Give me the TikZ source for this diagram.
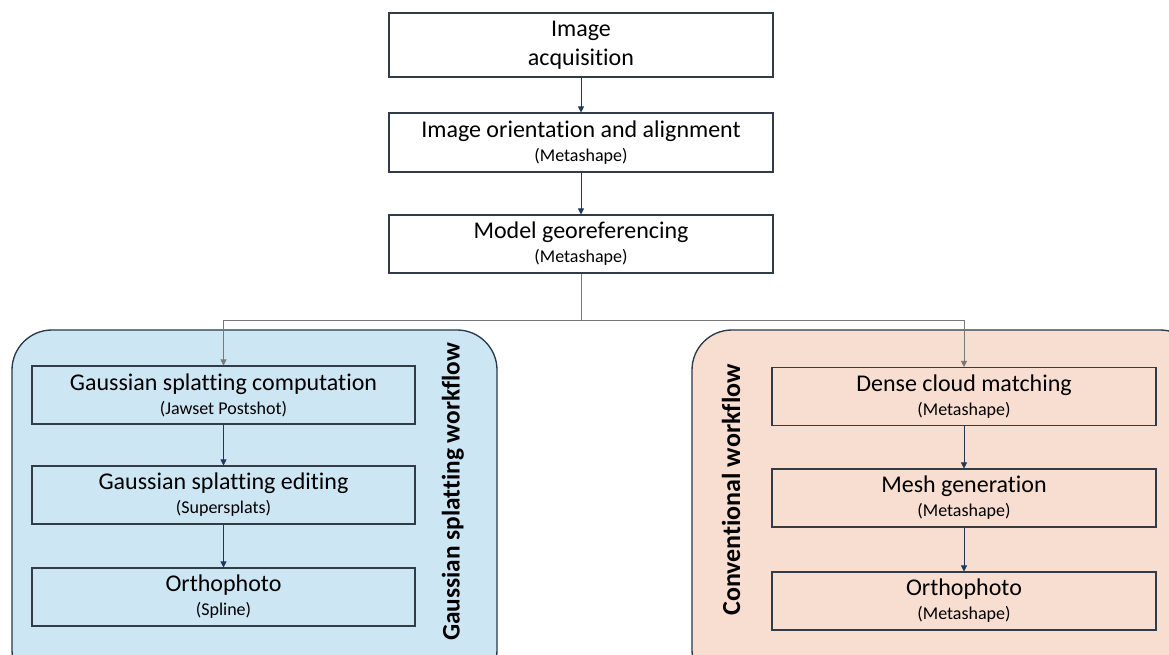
\documentclass[tikz,border=0pt]{standalone}
\usepackage{fontspec}
\setmainfont{Carlito}[Ligatures={NoCommon}]
\usetikzlibrary{arrows.meta}
\definecolor{bluefill}{RGB}{205,230,244}
\definecolor{peachfill}{RGB}{248,222,209}
\definecolor{panelborder}{RGB}{38,58,76}
\definecolor{boxborder}{RGB}{50,60,70}
\definecolor{navy}{RGB}{31,56,90}
\definecolor{branchgray}{RGB}{120,120,120}
\tikzset{
  stepbox/.style={draw=boxborder, line width=0.8pt, minimum width=384*0.75pt, minimum height=58*0.75pt, align=center, inner sep=0pt, font=\fontsize{18}{20}\selectfont},
  flow/.style={draw=navy, line width=0.6pt, -{Triangle[length=4.5pt,width=4.5pt]}},
  branch/.style={draw=branchgray, line width=0.6pt},
  panel/.style={draw=panelborder, line width=1pt, rounded corners=30pt},
  paneltitle/.style={rotate=90, font=\fontsize{18.5}{20}\selectfont\bfseries}
}
\newcommand{\subl}[1]{\\[-2pt]{\fontsize{13.5}{15}\selectfont #1}}
\begin{document}
\begin{tikzpicture}[x=0.75pt,y=-0.75pt]
\useasboundingbox (0,0) rectangle (1169,655);
\clip (0,0) rectangle (1169,655);
\fill[white] (0,0) rectangle (1169,655);
% panels
\draw[panel, fill=bluefill] (12,330) rectangle (497,690);
\draw[panel, fill=peachfill] (692,330) rectangle (1200,690);
% top boxes
\node[stepbox, fill=white, minimum height=64*0.75pt] (acq) at (581,45) {Image\\[2pt]acquisition};
\node[stepbox, fill=white, minimum height=59*0.75pt] (ori) at (581,142.5) {Image orientation and alignment\subl{(Metashape)}};
\node[stepbox, fill=white] (geo) at (581,244) {Model georeferencing\subl{(Metashape)}};
% left boxes
\node[stepbox, fill=bluefill, minimum width=383*0.75pt] (gs1) at (223.5,395) {Gaussian splatting computation\subl{(Jawset Postshot)}};
\node[stepbox, fill=bluefill, minimum width=383*0.75pt] (gs2) at (223.5,495) {Gaussian splatting editing\subl{(Supersplats)}};
\node[stepbox, fill=bluefill, minimum width=383*0.75pt] (gs3) at (223.5,597) {Orthophoto\subl{(Spline)}};
% right boxes
\node[stepbox, fill=peachfill] (cw1) at (964,396.5) {Dense cloud matching\subl{(Metashape)}};
\node[stepbox, fill=peachfill] (cw2) at (964,498) {Mesh generation\subl{(Metashape)}};
\node[stepbox, fill=peachfill] (cw3) at (964,601) {Orthophoto\subl{(Metashape)}};
% panel titles
\node[paneltitle, font=\fontsize{19}{20}\selectfont\bfseries] (gstitle) at (453,492) {Gaussian splatting workflow};
\node[paneltitle, font=\fontsize{19.5}{20}\selectfont\bfseries] (cwtitle) at (731,490) {Conventional workflow};
% connectors
\draw[flow] (acq) -- (ori);
\draw[flow] (ori) -- (geo);
\coordinate (split) at (581,320);
\coordinate (splitL) at (223.5,320);
\coordinate (splitR) at (964,320);
\draw[branch] (geo.south) -- (split);
\draw[branch] (splitL) -- (splitR);
\draw[branch, -{Triangle[length=4.5pt,width=4.5pt]}] (splitL) -- (gs1.north);
\draw[branch, -{Triangle[length=4.5pt,width=4.5pt]}] (splitR) -- (cw1.north);
\draw[flow] (gs1) -- (gs2);
\draw[flow] (gs2) -- (gs3);
\draw[flow] (cw1) -- (cw2);
\draw[flow] (cw2) -- (cw3);
\end{tikzpicture}
\end{document}
